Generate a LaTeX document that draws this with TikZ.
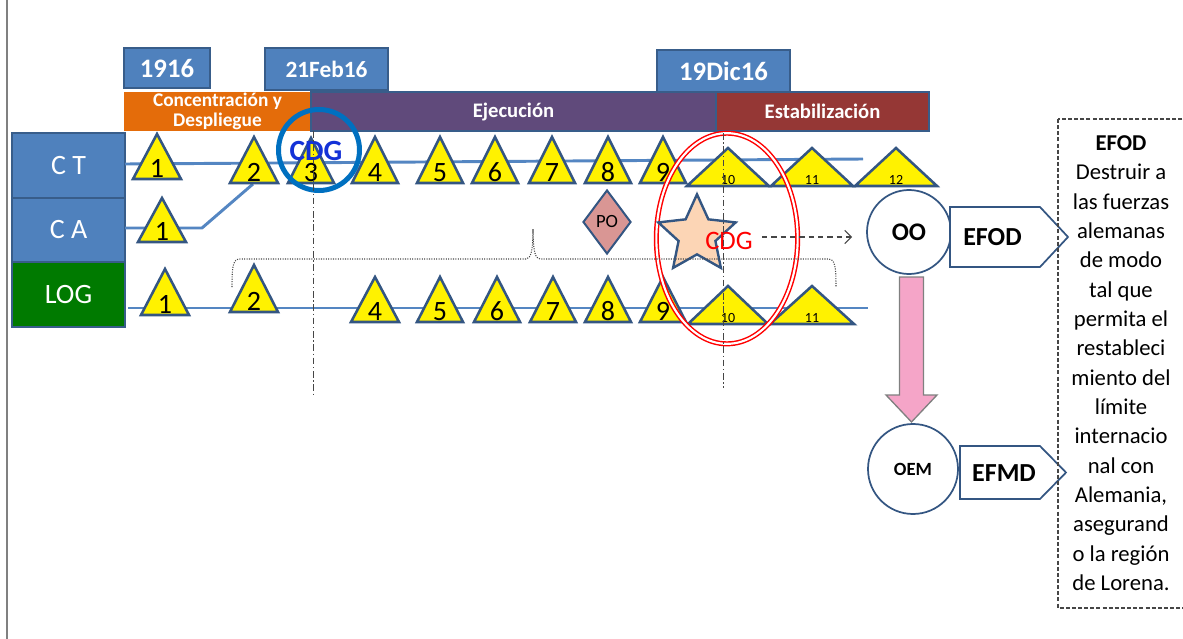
\documentclass[tikz,border=0pt]{standalone}
\usepackage{fontspec}
\setmainfont{Carlito}
\usetikzlibrary{shapes.geometric,arrows.meta,calc}
\definecolor{boxblue}{RGB}{79,129,189}
\definecolor{boxB}{RGB}{56,93,138}
\definecolor{triB}{RGB}{52,86,130}
\definecolor{phorange}{RGB}{228,108,10}
\definecolor{phpurple}{RGB}{96,74,123}
\definecolor{phred}{RGB}{149,55,53}
\definecolor{loggreen}{RGB}{0,122,0}
\definecolor{rowline}{RGB}{84,134,194}
\definecolor{pinkarrow}{RGB}{245,165,200}
\definecolor{peach}{RGB}{252,213,181}
\definecolor{podiam}{RGB}{217,150,148}
\definecolor{ringblue}{RGB}{0,112,192}
\definecolor{cdgblue}{RGB}{20,50,215}
\definecolor{dgray}{RGB}{70,70,70}
\newcommand\mytri[7]{%
  \draw[tri] (#2,#3) -- ({#2+#4},#5) -- ({#2-#4},#5) -- cycle;
  \node[#6] (#1) at (#2,{#5-2}) {#7};}
\begin{document}
\begin{tikzpicture}[x=0.75pt,y=-0.75pt,
  sz/.style 2 args={minimum width=#1*0.75pt, minimum height=#2*0.75pt, inner sep=0pt},
  datebox/.style={draw=boxB, fill=boxblue, line width=1.5pt, text=white, font=\bfseries},
  phase/.style={text=white, font=\bfseries\fontsize{15.5}{17}\selectfont, align=center},
  rowbox/.style={draw=boxB, line width=1.5pt, text=white, font=\fontsize{21}{24}\selectfont},
  tri/.style={draw=triB, fill=yellow, line width=1.9pt, line join=miter},
  num/.style={font=\fontsize{21}{22}\selectfont, inner sep=0pt, anchor=base},
  snum/.style={font=\fontsize{10.5}{11}\selectfont, inner sep=0pt, anchor=base},
  rline/.style={draw=rowline, line width=2.2pt},
  vdash/.style={draw=dgray, line width=0.7pt, dash pattern=on 5pt off 2pt on 1pt off 2pt},
  objcirc/.style={circle, draw=triB, line width=1.3pt, fill=white, inner sep=0pt, font=\bfseries},
  pent/.style={draw=triB, line width=1.3pt, fill=white, line join=miter},
  pentxt/.style={font=\bfseries\fontsize{19.5}{22}\selectfont, inner sep=0pt}]
\useasboundingbox (0,0) rectangle (1183,639);
% left edge
\draw[gray, line width=1.2pt] (7,0) -- (7,639);
% date boxes
\node[datebox, sz={86}{40}, font=\bfseries\fontsize{20}{22}\selectfont] (d1916) at (167,68) {1916};
\node[datebox, sz={123}{42}, font=\bfseries\fontsize{17.5}{20}\selectfont] (d21feb) at (326.5,69) {21Feb16};
\node[datebox, sz={133}{42}, font=\bfseries\fontsize{20}{22}\selectfont] (d19dic) at (723.5,71) {19Dic16};
% phase bars
\node[phase, fill=phorange, sz={187}{39}, font=\bfseries\fontsize{14.5}{15.5}\selectfont] (pconc) at (217.5,111.5) {Concentración y\\Despliegue};
\node[phase, fill=phpurple, draw=boxB, line width=1pt, sz={405}{39}] (pejec) at (513.5,111.5) {Ejecución};
\node[phase, fill=phred, draw=boxB, line width=1.2pt, sz={213}{39}] (pestab) at (822.5,111.5) {Estabilización};
% row boxes
\node[rowbox, fill=boxblue, sz={113}{65}] (rct) at (68.5,165.5) {C T};
\node[rowbox, fill=boxblue, sz={113}{64}] (rca) at (68.5,230) {C A};
\node[rowbox, fill=loggreen, sz={113}{65}] (rlog) at (68.5,294.5) {LOG};
% row lines
\coordinate (ctL) at (125,164);
\coordinate (ctR) at (863,159);
\coordinate (caL) at (125,228);
\coordinate (caK) at (202,228);
\coordinate (caE) at (253,184);
\coordinate (logL) at (128,308);
\coordinate (logR) at (868,308);
\draw[rline] (ctL) -- (ctR);
\draw[rline, line join=round] (caL) -- (caK) -- (caE);
\draw[rline] (logL) -- (logR);
% CT triangles
\mytri{ct1}{157}{134}{24}{179}{num}{1}
\mytri{ct2}{254}{137}{24}{183}{num}{2}
\mytri{ct3}{311}{138}{23}{183}{num}{3}
\mytri{ct4}{375}{137}{23}{183}{num}{4}
\mytri{ct5}{440}{137}{23}{183}{num}{5}
\mytri{ct6}{495}{137}{23}{183}{num}{6}
\mytri{ct7}{552}{137}{23}{183}{num}{7}
\mytri{ct8}{608}{137}{23}{183}{num}{8}
\mytri{ct9}{663}{137}{23}{183}{num}{9}
\mytri{ct10}{728}{148}{41}{186}{snum}{10}
\mytri{ct11}{812}{148}{41}{186}{snum}{11}
\mytri{ct12}{896}{148}{41}{186}{snum}{12}
% CA triangle
\mytri{ca1}{162}{198}{24}{242}{num}{1}
% LOG triangles
\mytri{lg1}{165}{269}{24}{315}{num}{1}
\mytri{lg2}{254}{265}{24}{312}{num}{2}
\mytri{lg4}{375}{277}{24}{322}{num}{4}
\mytri{lg5}{440}{277}{23}{322}{num}{5}
\mytri{lg6}{497}{277}{23}{322}{num}{6}
\mytri{lg7}{553}{277}{23}{322}{num}{7}
\mytri{lg8}{608}{277}{23}{322}{num}{8}
\mytri{lg9}{663}{277}{23}{322}{num}{9}
\mytri{lg10}{728}{286}{40}{324}{snum}{10}
\mytri{lg11}{812}{286}{42}{324}{snum}{11}
% blue CDG ring
\node[circle, draw=ringblue, line width=3.75pt, minimum size=60.75pt, inner sep=0pt] (cdgring) at (319,150) {};
\node[text=cdgblue, font=\bfseries\fontsize{22}{22}\selectfont, inner sep=0pt] (cdgb) at (316,151) {CDG};
% PO diamond
\node[diamond, draw=triB, fill=podiam, line width=1.5pt, aspect=0.75, minimum width=36pt, minimum height=48pt, inner sep=0pt, font=\fontsize{14}{15}\selectfont] (po) at (607,222) {PO};
% red double ellipse
\node[ellipse, draw=red, double=white, double distance=1.6pt, line width=1.1pt, minimum width=106pt, minimum height=158pt, inner sep=0pt] (redell) at (727,238.5) {};
% star
\node[star, star points=5, star point ratio=2.1, draw=triB, fill=peach, line width=1.8pt, minimum size=61pt, inner sep=0pt] (star) at (697,235) {};
\node[text=red, font=\fontsize{20}{20}\selectfont, inner sep=0pt] (cdgr) at (729,240.5) {CDG};
% objectives
\node[objcirc, minimum size=63pt, font=\bfseries\fontsize{19}{20}\selectfont] (oo) at (909,232) {OO};
\node[objcirc, minimum size=67.5pt, font=\bfseries\fontsize{14}{15}\selectfont] (oem) at (913,469) {OEM};
% dashed arrow
\coordinate (ar1) at (762,237);
\draw[dgray, line width=0.8pt, dash pattern=on 4pt off 3pt, -{Straight Barb[length=5pt,width=10pt]}, shorten >=10.5pt] (ar1) -- (ar1 -| oo.west);
% pentagons
\draw[pent] (950,207) -- (1040,207) -- (1068,237) -- (1040,267) -- (950,267) -- cycle;
\node[pentxt] (efod) at (992.5,237) {EFOD};
\draw[pent] (960,446) -- (1040,446) -- (1066,472.5) -- (1040,499) -- (960,499) -- cycle;
\node[pentxt] (efmd) at (1004,473) {EFMD};
% pink arrow from OO to OEM
\draw[draw=gray, fill=pinkarrow, line width=1pt, line join=miter]
  (899.5,277) -- (923.5,277) -- (923.5,395) -- (937,395) -- (911.5,422) -- (886,395) -- (899.5,395) -- cycle;
% dashed text box
\draw[dgray, line width=0.8pt, dash pattern=on 3pt off 1.6pt] (1058,119) rectangle (1220,608);
\node[anchor=north, inner sep=0pt, align=center, font=\fontsize{17}{22}\selectfont] (efodtxt) at (1121,135.5)
 {\textbf{EFOD}\\Destruir a\\las fuerzas\\alemanas\\de modo\\tal que\\permita el\\restableci\\miento del\\límite\\internacio\\nal con\\Alemania,\\asegurand\\o la región\\de Lorena.};
% brace
\draw[dgray, line width=0.8pt, densely dotted]
  (232,287) .. controls (232,266) and (233,259) .. (240,259) -- (526,259)
  .. controls (531,259) and (533,250) .. (533,229)
  .. controls (533,250) and (535,259) .. (540,259) -- (828,259)
  .. controls (835,259) and (836,266) .. (836,287);
% vertical dash-dot lines
\coordinate (v1t) at (313,131);
\coordinate (v1b) at (313,397);
\coordinate (v2t) at (723,133);
\coordinate (v2b) at (723,388);
\draw[vdash] (v1t) -- (v1b);
\draw[vdash] (v2t) -- (v2b);
\end{tikzpicture}
\end{document}
